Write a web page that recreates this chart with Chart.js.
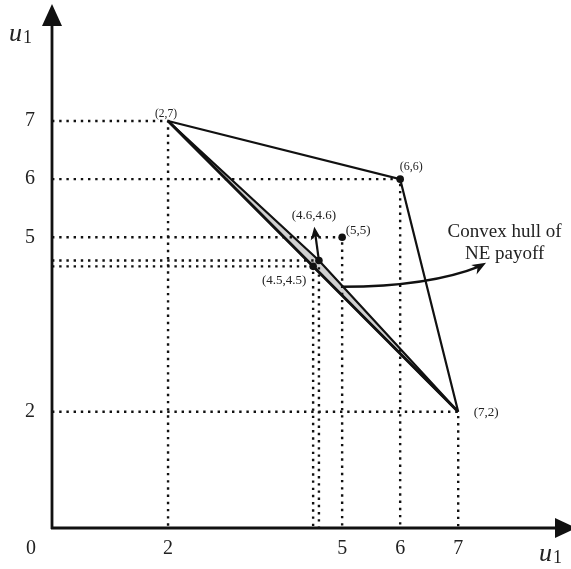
<!DOCTYPE html>
<html>
<head>
<meta charset="utf-8">
<script src="https://cdn.jsdelivr.net/npm/chart.js@4/dist/chart.umd.min.js"></script>
<style>
  html, body { margin: 0; padding: 0; background: #fff; }
  #wrap { width: 571px; height: 569px; }
</style>
</head>
<body>
<div id="wrap"><canvas id="c" width="571" height="569"></canvas></div>
<script>
// Tick values shown on each axis
const xTicks = [2, 5, 6, 7];
const yTicks = [2, 5, 6, 7];

// Feasible payoff hull vertices
const hullVertices = [[2, 7], [6, 6], [7, 2]];
// Convex hull of NE payoffs (shaded region)
const neRegion = [[2, 7], [4.6, 4.6], [7, 2]];
// Payoff points with dotted guides to both axes
const guidePoints = [[2, 7], [6, 6], [5, 5], [4.6, 4.6], [4.5, 4.5], [7, 2]];
const guideLabels = ["(2,7)", "(6,6)", "(5,5)", "(4.6,4.6)", "(4.5,4.5)", "(7,2)"];
// Points drawn with a filled marker
const markerPoints = [[6, 6], [5, 5], [4.6, 4.6], [4.5, 4.5]];

// Annotation arrows (data coordinates)
const pointerArrow = { from: [4.6, 4.6], to: [4.52, 5.18] };
const hullArrow = { from: [5.0, 4.15], ctrl: [6.5, 4.15], to: [7.48, 4.56] };
const hullText = ["Convex hull of", "NE payoff"];
const hullTextAt = [7.8, 5.0];

// Label placement (pixel offsets from each point)
const labelOffsets = [[-2, -7], [11, -12], [16, -7], [-5, -45], [-29, 14], [28, 1]];
const labelSizes = [11.5, 12, 13, 13, 13, 13];

const toXY = a => a.map(p => ({ x: p[0], y: p[1] }));
const SERIF = '"Liberation Serif", "DejaVu Serif", serif';

const datasets = [];
// shaded NE region
datasets.push({
  data: toXY(neRegion.concat([neRegion[0]])),
  showLine: true, fill: 'shape',
  backgroundColor: '#d0d0d0', borderColor: '#111', borderWidth: 2.2,
  pointRadius: 0, tension: 0, order: 5
});
// thicker lower diagonal
datasets.push({
  data: toXY([neRegion[0], neRegion[2]]),
  showLine: true, fill: false, borderColor: '#111', borderWidth: 2.8,
  pointRadius: 0, order: 4
});
// hull outline
datasets.push({
  data: toXY(hullVertices),
  showLine: true, fill: false, borderColor: '#111', borderWidth: 2.2,
  pointRadius: 0, order: 4
});
// dotted guides
guidePoints.forEach(p => {
  datasets.push({
    data: [{ x: 0, y: p[1] }, { x: p[0], y: p[1] }, { x: p[0], y: 0 }],
    showLine: true, fill: false, borderColor: '#111', borderWidth: 2.4,
    borderDash: [2.4, 4.8], pointRadius: 0, order: 3
  });
});
// markers
datasets.push({
  data: toXY(markerPoints),
  showLine: false, pointRadius: 3.8, pointBackgroundColor: '#111',
  pointBorderColor: '#111', pointBorderWidth: 0, order: 1
});

function arrowHead(ctx, x, y, ang, len, half) {
  ctx.save();
  ctx.translate(x, y);
  ctx.rotate(ang);
  ctx.beginPath();
  ctx.moveTo(0, 0);
  ctx.lineTo(-len, -half);
  ctx.lineTo(-len * 0.7, 0);
  ctx.lineTo(-len, half);
  ctx.closePath();
  ctx.fill();
  ctx.restore();
}

const decor = {
  id: 'decor',
  afterDatasetsDraw(chart) {
    const ctx = chart.ctx;
    const xs = chart.scales.x, ys = chart.scales.y;
    const px = v => xs.getPixelForValue(v), py = v => ys.getPixelForValue(v);
    const x0 = px(0), y0 = py(0);
    ctx.save();
    ctx.fillStyle = '#111';
    ctx.strokeStyle = '#111';

    // axes with arrowheads
    ctx.lineWidth = 2.8;
    ctx.beginPath();
    ctx.moveTo(x0, y0 + 1); ctx.lineTo(x0, 22);
    ctx.moveTo(x0 - 1, y0); ctx.lineTo(560, y0);
    ctx.stroke();
    ctx.beginPath();
    ctx.moveTo(x0, 4); ctx.lineTo(x0 - 10, 26); ctx.lineTo(x0 + 10, 26); ctx.closePath();
    ctx.fill();
    ctx.beginPath();
    ctx.moveTo(576, y0); ctx.lineTo(555, y0 - 10); ctx.lineTo(555, y0 + 10); ctx.closePath();
    ctx.fill();

    // tick labels
    ctx.fillStyle = '#222';
    ctx.font = '20px ' + SERIF;
    ctx.textAlign = 'center';
    ctx.textBaseline = 'middle';
    xTicks.forEach(v => ctx.fillText(String(v), px(v), 549));
    yTicks.forEach(v => ctx.fillText(String(v), 30, py(v)));
    ctx.fillText('0', 31, 549);

    // axis titles
    const title = (x, y) => {
      ctx.textAlign = 'left';
      ctx.textBaseline = 'alphabetic';
      ctx.font = 'italic 26px ' + SERIF;
      ctx.fillText('u', x, y);
      const w = ctx.measureText('u').width;
      ctx.font = '18px ' + SERIF;
      ctx.fillText('1', x + w + 1, y + 2);
    };
    title(9, 41);
    title(539, 561);

    // point labels
    ctx.textAlign = 'center';
    ctx.textBaseline = 'middle';
    guidePoints.forEach((p, i) => {
      ctx.font = labelSizes[i] + 'px ' + SERIF;
      ctx.fillText(guideLabels[i], px(p[0]) + labelOffsets[i][0], py(p[1]) + labelOffsets[i][1]);
    });

    // pointer arrow from (4.6,4.6)
    ctx.fillStyle = '#111';
    ctx.lineWidth = 2.2;
    const a1 = [px(pointerArrow.from[0]), py(pointerArrow.from[1])];
    const a2 = [px(pointerArrow.to[0]), py(pointerArrow.to[1])];
    const ang1 = Math.atan2(a2[1] - a1[1], a2[0] - a1[0]);
    ctx.beginPath();
    ctx.moveTo(a1[0], a1[1]);
    ctx.lineTo(a2[0] - 7 * Math.cos(ang1), a2[1] - 7 * Math.sin(ang1));
    ctx.stroke();
    arrowHead(ctx, a2[0], a2[1], ang1, 13, 5.5);

    // curved arrow to the region caption
    const s = [px(hullArrow.from[0]), py(hullArrow.from[1])];
    const c = [px(hullArrow.ctrl[0]), py(hullArrow.ctrl[1])];
    const e = [px(hullArrow.to[0]), py(hullArrow.to[1])];
    const ang2 = Math.atan2(e[1] - c[1], e[0] - c[0]) - 0.12;
    ctx.lineWidth = 2.4;
    ctx.beginPath();
    ctx.moveTo(s[0], s[1]);
    ctx.quadraticCurveTo(c[0], c[1], e[0] - 6 * Math.cos(ang2), e[1] - 6 * Math.sin(ang2));
    ctx.stroke();
    arrowHead(ctx, e[0], e[1], ang2, 14, 5.5);

    // caption
    ctx.fillStyle = '#222';
    ctx.font = '19px ' + SERIF;
    ctx.textAlign = 'center';
    ctx.textBaseline = 'alphabetic';
    const tx = px(hullTextAt[0]), ty = py(hullTextAt[1]);
    hullText.forEach((t, i) => ctx.fillText(t, tx, ty + i * 22));
    ctx.restore();
  }
};

new Chart(document.getElementById('c'), {
  type: 'scatter',
  data: { datasets },
  options: {
    responsive: false,
    animation: false,
    events: [],
    layout: { padding: { left: 52, right: 3, top: 5, bottom: 41 } },
    plugins: { legend: { display: false }, tooltip: { enabled: false } },
    scales: {
      x: { type: 'linear', min: 0, max: 8.875, display: false },
      y: { type: 'linear', min: 0, max: 8.995, display: false }
    },
    elements: { line: { borderCapStyle: 'butt', tension: 0 } }
  },
  plugins: [decor]
});
</script>
</body>
</html>
